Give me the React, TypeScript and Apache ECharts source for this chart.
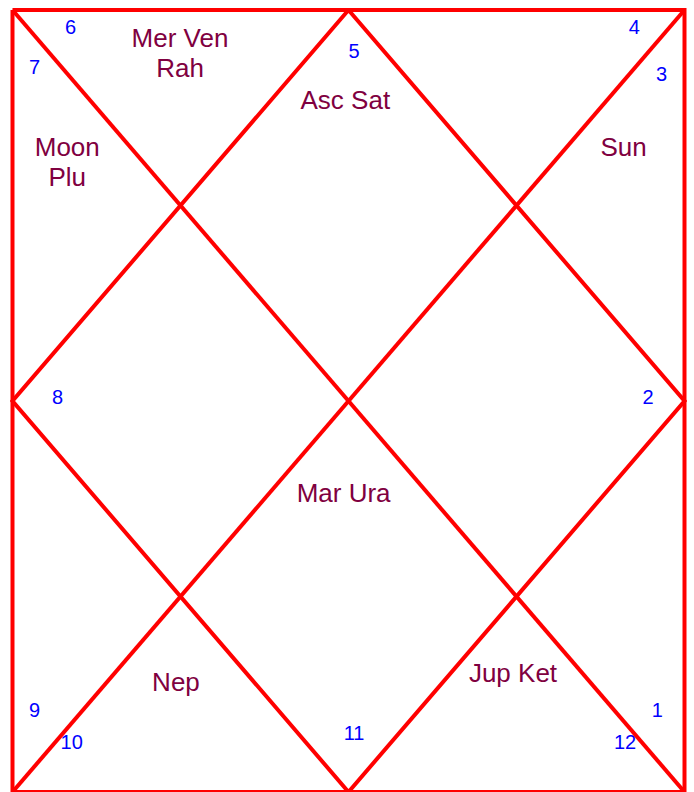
import React, { useEffect, useRef } from "react";
import * as echarts from "echarts";

// Chart geometry in chart units (frame spans 0..4 both ways)
const framePts: [number, number][] = [[0, 0], [4, 0], [4, 4], [0, 4], [0, 0]];
const diagA: [number, number][] = [[0, 0], [4, 4]];
const diagB: [number, number][] = [[4, 0], [0, 4]];
const diamondPts: [number, number][] = [[2, 0], [4, 2], [2, 4], [0, 2], [2, 0]];

// Houses 1..12: sign number and planets
const signNumbers = [5, 6, 7, 8, 9, 10, 11, 12, 1, 2, 3, 4];
const planets = [
  "Asc Sat",
  "Mer Ven\nRah",
  "Moon\nPlu",
  "",
  "",
  "Nep",
  "Mar Ura",
  "Jup Ket",
  "",
  "",
  "Sun",
  "",
];
// label anchor points in chart units
const signPos: [number, number][] = [
  [2.033, 0.209],
  [0.345, 0.087],
  [0.132, 0.29],
  [0.268, 1.977],
  [0.131, 3.581],
  [0.352, 3.742],
  [2.033, 3.699],
  [3.646, 3.742],
  [3.838, 3.581],
  [3.783, 1.977],
  [3.864, 0.327],
  [3.701, 0.087],
];
const planetPos: [number, number][] = [
  [1.981, 0.46],
  [0.997, 0.219],
  [0.326, 0.778],
  [0, 0],
  [0, 0],
  [0.973, 3.436],
  [1.971, 2.473],
  [2.979, 3.392],
  [0, 0],
  [0, 0],
  [3.637, 0.702],
  [0, 0],
];

const FONT = '"Liberation Sans", Arial, sans-serif';

export default function App() {
  const ref = useRef<HTMLDivElement>(null);
  useEffect(() => {
    if (!ref.current) return;
    const chart = echarts.init(ref.current, undefined, { renderer: "svg" });
    const lineStyle = { color: "#ff0000", width: 4, join: "miter" as const, opacity: 1 };
    const mkLine = (pts: [number, number][]) => ({
      type: "line",
      data: pts,
      symbol: "none",
      clip: false,
      lineStyle,
      silent: true,
    });
    const signData = signNumbers.map((s, i) => ({ value: signPos[i], name: String(s) }));
    const planetData = planets
      .map((p, i) => ({ value: planetPos[i], name: p }))
      .filter((d) => d.name !== "");
    const labelSeries = (data: any[], color: string, size: number) => ({
      type: "scatter",
      data,
      symbolSize: 1,
      itemStyle: { color: "rgba(0,0,0,0)", opacity: 1 },
      clip: false,
      silent: true,
      label: {
        show: true,
        position: "inside",
        formatter: "{b}",
        color,
        opacity: 1,
        fontSize: size,
        fontFamily: FONT,
        lineHeight: 30,
        align: "center",
        verticalAlign: "middle",
      },
    });
    chart.setOption({
      animation: false,
      backgroundColor: "#ffffff",
      grid: { left: 12.5, right: 9.5, top: 10, bottom: -1.5 },
      xAxis: { type: "value", min: 0, max: 4, show: false },
      yAxis: { type: "value", min: 0, max: 4, inverse: true, show: false },
      series: [
        mkLine(framePts),
        mkLine(diagA),
        mkLine(diagB),
        mkLine(diamondPts),
        labelSeries(signData, "#0000ff", 20),
        labelSeries(planetData, "#800040", 26),
      ],
    });
    return () => chart.dispose();
  }, []);
  return (
    <div
      ref={ref}
      style={{ position: "fixed", left: 0, top: 0, width: 694, height: 792, background: "#fff" }}
    />
  );
}
